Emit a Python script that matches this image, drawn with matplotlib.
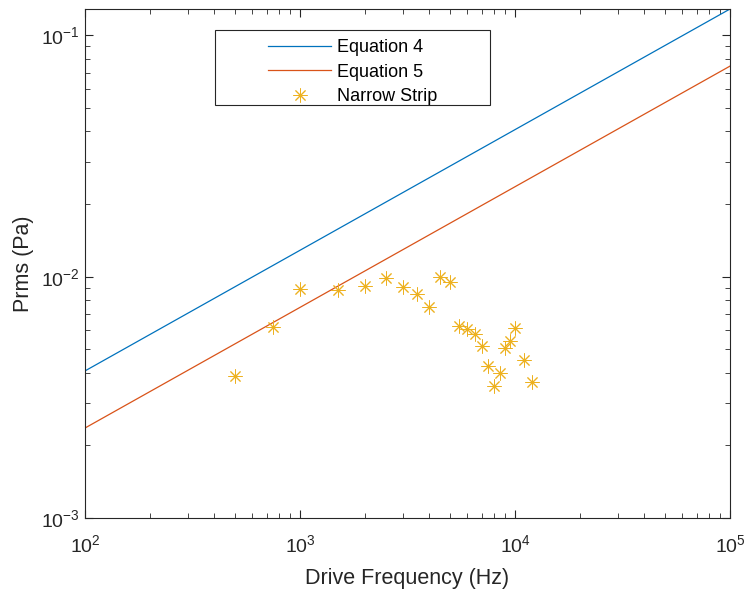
import numpy as np
import matplotlib
matplotlib.use("Agg")
import matplotlib.pyplot as plt
from matplotlib.patches import Rectangle

plt.rcParams['font.family'] = ['Liberation Sans', 'DejaVu Sans']
plt.rcParams['mathtext.fontset'] = 'custom'
plt.rcParams['mathtext.rm'] = 'Liberation Sans'
plt.rcParams['mathtext.it'] = 'Liberation Sans:italic'
plt.rcParams['mathtext.bf'] = 'Liberation Sans:bold'
plt.rcParams['axes.unicode_minus'] = False

# Model coefficients: Prms = k * sqrt(f)
eq4_coef = 4.07e-4
eq5_coef = 2.36e-4

# Narrow strip measurements
strip_freq = [500, 750, 1000, 1500, 2000, 2500, 3000, 3500, 4000, 4500, 5000,
              5500, 6000, 6500, 7000, 7500, 8000, 8500, 9000, 9500, 10000,
              11000, 12000]
strip_prms = [0.00389, 0.00618, 0.00891, 0.00877, 0.00912, 0.00988, 0.00906,
              0.00849, 0.00748, 0.01002, 0.00953, 0.00627, 0.00607, 0.00580,
              0.00518, 0.00428, 0.00354, 0.00398, 0.00506, 0.00542, 0.00612,
              0.00450, 0.00366]

f = np.logspace(2, 5, 200)

W, H = 748, 589
fig = plt.figure(figsize=(W / 100, H / 100), dpi=100)
ax = fig.add_axes([85 / W, 1 - 518 / H, 645 / W, 509 / H])

ax.loglog(f, eq4_coef * np.sqrt(f), color='#0072BD', lw=0.9, label='Equation 4')
ax.loglog(f, eq5_coef * np.sqrt(f), color='#D95319', lw=0.9, label='Equation 5')
ax.loglog(strip_freq, strip_prms, linestyle='none', marker=(8, 2, 0),
          markersize=10, markeredgewidth=0.7, color='#EDB120', label='Narrow Strip')

ax.set_xlim(1e2, 1e5)
ax.set_ylim(1e-3, eq4_coef * np.sqrt(1e5))

ax.set_xlabel('Drive Frequency (Hz)', fontsize=15.5, color='#262626', labelpad=8)
ax.set_ylabel('Prms (Pa)', fontsize=15.5, color='#262626', labelpad=5)

for s in ax.spines.values():
    s.set_color('#262626')
    s.set_linewidth(0.8)
ax.tick_params(which='both', direction='in', top=True, right=True,
               colors='#262626', labelsize=14)
ax.tick_params(which='major', length=6, width=0.8)
ax.tick_params(which='minor', length=3.5, width=0.6)
ax.tick_params(axis='x', pad=12)

# Legend box drawn as its own rectangle so the entries sit with wide margins
ax.add_patch(Rectangle((215 / W, 1 - 105 / H), 275 / W, 75 / H,
                       transform=fig.transFigure, facecolor='white',
                       edgecolor='#262626', linewidth=0.8, zorder=5,
                       clip_on=False))
leg = ax.legend(loc='upper left', bbox_to_anchor=(268 / W, 1 - 39 / H),
                bbox_transform=fig.transFigure, fontsize=13, frameon=False,
                borderpad=0, handlelength=3.5, handletextpad=0.3,
                labelspacing=0.42, borderaxespad=0)
leg.set_zorder(6)

fig.savefig('out.png', dpi=100)
